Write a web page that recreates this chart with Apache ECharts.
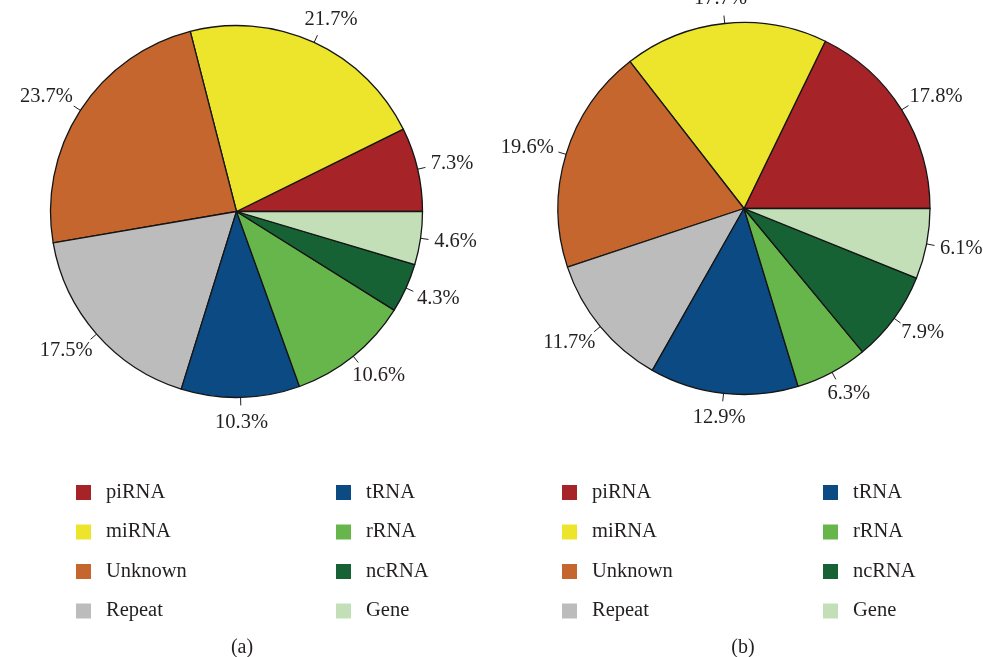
<!DOCTYPE html>
<html>
<head>
<meta charset="utf-8">
<script src="https://cdn.jsdelivr.net/npm/echarts@6/dist/echarts.min.js"></script>
<style>
  html, body { margin: 0; padding: 0; background: #ffffff; }
  #chart { width: 983px; height: 657px; }
</style>
</head>
<body>
<div id="chart"></div>
<script>
// Small RNA categories and their share (%) in each library
const categories = ['piRNA', 'miRNA', 'Unknown', 'Repeat', 'tRNA', 'rRNA', 'ncRNA', 'Gene'];
const valuesA = [7.3, 21.7, 23.7, 17.5, 10.3, 10.6, 4.3, 4.6];
const valuesB = [17.8, 17.7, 19.6, 11.7, 12.9, 6.3, 7.9, 6.1];
const panelLabels = ['(a)', '(b)'];
const palette = ['#a62428', '#ece52b', '#c5662f', '#bcbcbc', '#0b4a83', '#67b64b', '#166234', '#c3dfb8'];

const FONT = '"Liberation Serif", "DejaVu Serif", serif';
const TEXT = '#231f20';

// Put each percentage a little beyond its tick along the slice's mid-angle,
// shifting the box outward by half its width/height scaled by the direction.
function radialLabel(params) {
  const pts = params.labelLinePoints;
  if (!pts) return {};
  const p0 = pts[0], p1 = pts[1];
  let ux = p1[0] - p0[0], uy = p1[1] - p0[1];
  const len = Math.hypot(ux, uy) || 1;
  ux /= len; uy /= len;
  const w = params.labelRect.width;
  return {
    x: p1[0] + ux * (6 + w / 2),
    y: p1[1] + uy * (10 + 6.7),
    align: 'center',
    verticalAlign: 'middle',
    labelLinePoints: pts
  };
}

function pieSeries(name, values, center) {
  return {
    name: name,
    type: 'pie',
    center: center,
    radius: 186,
    startAngle: 0,
    clockwise: false,
    avoidLabelOverlap: false,
    animation: false,
    data: categories.map((c, i) => ({ name: c, value: values[i] })),
    itemStyle: { borderColor: '#151515', borderWidth: 1.3 },
    label: {
      show: true,
      position: 'outside',
      formatter: (p) => p.value.toFixed(1) + '%',
      fontFamily: FONT,
      fontSize: 20.5,
      color: TEXT
    },
    labelLine: {
      show: true,
      length: 8,
      length2: 0,
      smooth: false,
      lineStyle: { color: '#231f20', width: 1 }
    },
    labelLayout: radialLabel,
    emphasis: { disabled: true }
  };
}

function legendColumn(names, left) {
  return {
    orient: 'vertical',
    left: left,
    top: 482,
    padding: 0,
    itemWidth: 15,
    itemHeight: 15,
    itemGap: 18.5,
    icon: 'rect',
    selectedMode: false,
    data: names,
    itemStyle: { borderWidth: 0 },
    textStyle: {
      fontFamily: FONT,
      fontSize: 20.5,
      color: TEXT,
      padding: [0, 0, 0, 10]
    }
  };
}

const colLeft = categories.slice(0, 4);
const colRight = categories.slice(4);

const chart = echarts.init(document.getElementById('chart'), null, { renderer: 'canvas' });
chart.setOption({
  backgroundColor: '#ffffff',
  color: palette,
  animation: false,
  legend: [
    legendColumn(colLeft, 76),
    legendColumn(colRight, 336),
    legendColumn(colLeft, 562),
    legendColumn(colRight, 823)
  ],
  title: [
    { text: panelLabels[0], left: 237, top: 633, textAlign: 'center',
      textStyle: { fontFamily: FONT, fontSize: 20, fontWeight: 'normal', color: TEXT } },
    { text: panelLabels[1], left: 738, top: 633, textAlign: 'center',
      textStyle: { fontFamily: FONT, fontSize: 20, fontWeight: 'normal', color: TEXT } }
  ],
  series: [
    pieSeries('a', valuesA, [236.5, 211.5]),
    pieSeries('b', valuesB, [744, 208.5])
  ]
});
</script>
</body>
</html>
